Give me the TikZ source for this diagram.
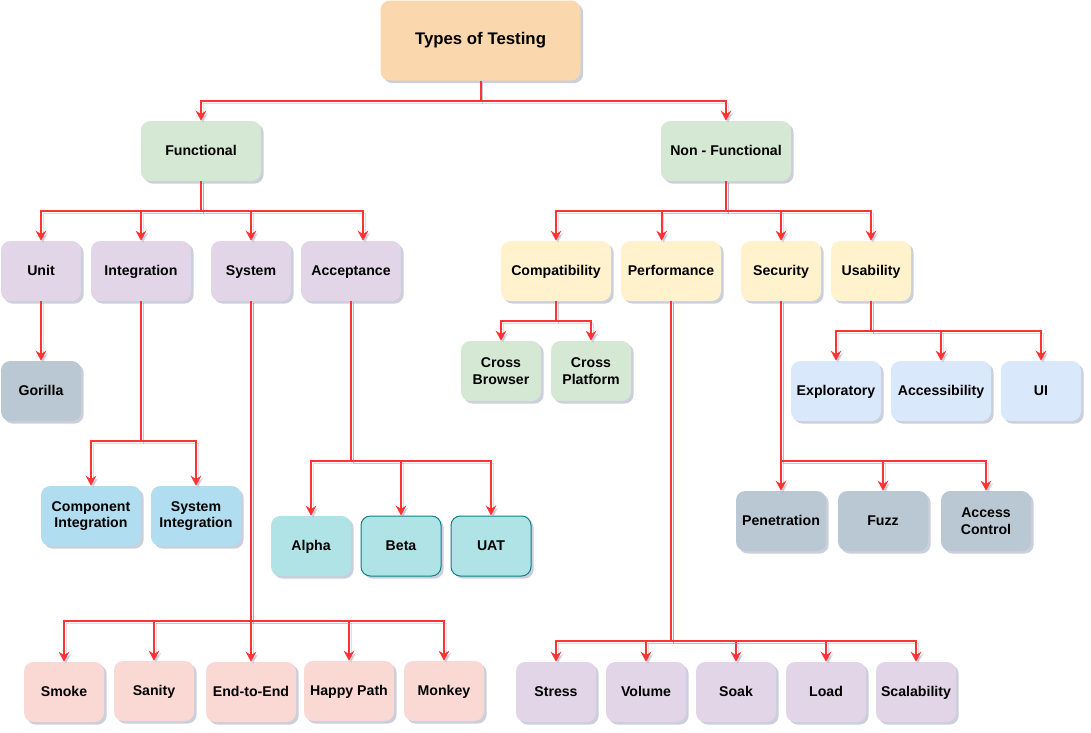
\documentclass[tikz,border=0pt]{standalone}
\usepackage{fontspec}
\setmainfont{Liberation Sans}
\usetikzlibrary{arrows.meta,shadows,calc}
\definecolor{cRoot}{HTML}{FAD7AC}
\definecolor{cGreen}{HTML}{D5E8D4}
\definecolor{cPurple}{HTML}{E1D5E7}
\definecolor{cYellow}{HTML}{FFF2CC}
\definecolor{cSlate}{HTML}{BAC8D3}
\definecolor{cSky}{HTML}{B1DDF0}
\definecolor{cTeal}{HTML}{B0E3E6}
\definecolor{cTealLine}{HTML}{0E8088}
\definecolor{cBlue}{HTML}{DAE8FC}
\definecolor{cPink}{HTML}{FAD9D5}
\definecolor{cLine}{HTML}{FF3333}
\definecolor{cShadow}{HTML}{8A94B0}
\begin{document}
\begin{tikzpicture}[x=0.75pt,y=-0.75pt,
  box/.style={rounded corners=7pt, inner sep=2pt, align=center,
    font=\bfseries\fontsize{10.6}{12.6}\selectfont, draw=none,
    minimum height=45pt, text height=1.6ex, text depth=0.35ex,
    drop shadow={shadow xshift=2pt, shadow yshift=-2pt, opacity=0.45, fill=cShadow}},
  two/.style={text height=, text depth=},
  w60/.style={minimum width=60pt},
  w67/.style={minimum width=67.5pt},
  w75/.style={minimum width=75pt},
  arr/.style={draw=cLine, line width=1.5pt, -{Stealth[length=7.5pt,width=8pt,inset=2.5pt]},
    preaction={draw=cShadow, opacity=0.3, transform canvas={shift={(1.5pt,-1.5pt)}}}}
]
\useasboundingbox (0,0) rectangle (1091,732);

% nodes
\node[box, fill=cRoot, minimum width=150pt, minimum height=60pt,
  font=\bfseries\fontsize{12.6}{15}\selectfont] (root) at (480.5,40.5) {Types of Testing};
\node[box, fill=cGreen, minimum width=90pt] (func) at (201,151) {Functional};
\node[box, fill=cGreen, minimum width=97.5pt] (nonf) at (726,151) {Non - Functional};

\node[box, w60, fill=cPurple] (unit) at (41,271) {Unit};
\node[box, w75, fill=cPurple] (integ) at (141,271) {Integration};
\node[box, w60, fill=cPurple] (sys) at (251,271) {System};
\node[box, w75, fill=cPurple] (acc) at (351,271) {Acceptance};

\node[box, fill=cYellow, minimum width=82.5pt] (compat) at (556,271) {Compatibility};
\node[box, w75, fill=cYellow] (perf) at (671,271) {Performance};
\node[box, w60, fill=cYellow] (sec) at (781,271) {Security};
\node[box, w60, fill=cYellow] (usab) at (871,271) {Usability};

\node[box, w60, fill=cSlate] (gor) at (41,391) {Gorilla};
\node[box, two, w75, fill=cSky] (compint) at (91,516) {Component\\Integration};
\node[box, two, w67, fill=cSky] (sysint) at (196,516) {System\\Integration};

\node[box, w60, fill=cTeal] (alpha) at (311,546) {Alpha};
\node[box, w60, fill=cTeal, draw=cTealLine, line width=0.75pt] (beta) at (401,546) {Beta};
\node[box, w60, fill=cTeal, draw=cTealLine, line width=0.75pt] (uat) at (491,546) {UAT};

\node[box, two, w60, fill=cGreen] (cb) at (501,371) {Cross\\Browser};
\node[box, two, w60, fill=cGreen] (cp) at (591,371) {Cross\\Platform};

\node[box, w67, fill=cBlue] (expl) at (836,391) {Exploratory};
\node[box, w75, fill=cBlue] (accs) at (941,391) {Accessibility};
\node[box, w60, fill=cBlue] (ui) at (1041,391) {UI};

\node[box, w67, fill=cSlate] (pen) at (781,521) {Penetration};
\node[box, w67, fill=cSlate] (fuzz) at (883,521) {Fuzz};
\node[box, two, w67, fill=cSlate] (ac) at (986,521) {Access\\Control};

\node[box, w60, fill=cPink] (smoke) at (64,692) {Smoke};
\node[box, w60, fill=cPink] (sanity) at (154,691) {Sanity};
\node[box, w67, fill=cPink] (e2e) at (251,692) {End-to-End};
\node[box, w67, fill=cPink] (happy) at (349,691) {Happy Path};
\node[box, w60, fill=cPink] (monkey) at (444,691) {Monkey};

\node[box, w60, fill=cPurple] (stress) at (556,692) {Stress};
\node[box, w60, fill=cPurple] (vol) at (646,692) {Volume};
\node[box, w60, fill=cPurple] (soak) at (736,692) {Soak};
\node[box, w60, fill=cPurple] (load) at (826,692) {Load};
\node[box, w60, fill=cPurple] (scal) at (916,692) {Scalability};

% branch points
\coordinate (b0) at (480.5,101);
\coordinate (bF) at (201,211);
\coordinate (bN) at (726,211);
\coordinate (bI) at (141,441);
\coordinate (bS) at (251,621);
\coordinate (bA) at (351,461);
\coordinate (bC) at (556,321);
\coordinate (bP) at (671,641);
\coordinate (bSe) at (781,461);
\coordinate (bU) at (871,331);

% connectors
\draw[arr] (root.south) |- (b0) -| (func.north);
\draw[arr] (root.south) |- (b0) -| (nonf.north);

\draw[arr] (func.south) |- (bF) -| (unit.north);
\draw[arr] (func.south) |- (bF) -| (integ.north);
\draw[arr] (func.south) |- (bF) -| (sys.north);
\draw[arr] (func.south) |- (bF) -| ([xshift=9pt]acc.north);

\draw[arr] (nonf.south) |- (bN) -| (compat.north);
\draw[arr] (nonf.south) |- (bN) -| ([xshift=-7pt]perf.north);
\draw[arr] (nonf.south) |- (bN) -| (sec.north);
\draw[arr] (nonf.south) |- (bN) -| (usab.north);

\draw[arr] (unit.south) -- (gor.north);

\draw[arr] (integ.south) |- (bI) -| (compint.north);
\draw[arr] (integ.south) |- (bI) -| (sysint.north);

\draw[arr] (sys.south) |- (bS) -| (smoke.north);
\draw[arr] (sys.south) |- (bS) -| (sanity.north);
\draw[arr] (sys.south) |- (bS) -| (e2e.north);
\draw[arr] (sys.south) |- (bS) -| (happy.north);
\draw[arr] (sys.south) |- (bS) -| (monkey.north);

\draw[arr] (acc.south) |- (bA) -| (alpha.north);
\draw[arr] (acc.south) |- (bA) -| (beta.north);
\draw[arr] (acc.south) |- (bA) -| (uat.north);

\draw[arr] (compat.south) |- (bC) -| (cb.north);
\draw[arr] (compat.south) |- (bC) -| (cp.north);

\draw[arr] (perf.south) |- (bP) -| (stress.north);
\draw[arr] (perf.south) |- (bP) -| (vol.north);
\draw[arr] (perf.south) |- (bP) -| (soak.north);
\draw[arr] (perf.south) |- (bP) -| (load.north);
\draw[arr] (perf.south) |- (bP) -| (scal.north);

\draw[arr] (sec.south) |- (bSe) -| (pen.north);
\draw[arr] (sec.south) |- (bSe) -| (fuzz.north);
\draw[arr] (sec.south) |- (bSe) -| (ac.north);

\draw[arr] (usab.south) |- (bU) -| (expl.north);
\draw[arr] (usab.south) |- (bU) -| (accs.north);
\draw[arr] (usab.south) |- (bU) -| (ui.north);
\end{tikzpicture}
\end{document}
